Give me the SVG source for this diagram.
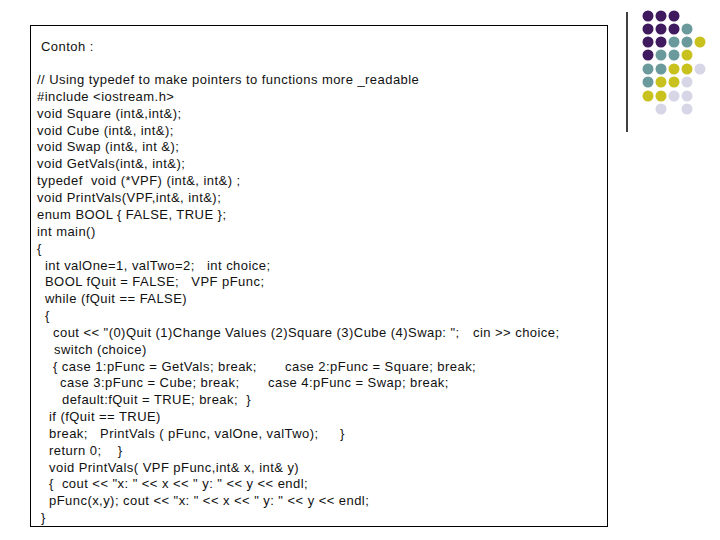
<svg xmlns="http://www.w3.org/2000/svg" width="720" height="540" viewBox="0 0 720 540" xml:space="preserve">
<style>
text{font-family:"Liberation Sans",Arial,sans-serif;font-size:13px;fill:#111;letter-spacing:0.45px;white-space:pre}
.p{fill:#3f1a5e}.t{fill:#6b9a9c}.y{fill:#c9c21e}.l{fill:#d6d6e6}
</style>
<rect width="720" height="540" fill="#fff"/>
<line x1="627" y1="12" x2="627" y2="132" stroke="#000" stroke-width="1.5"/>
<g id="dots">
<circle class="p" cx="648" cy="16" r="5.5"/><circle class="p" cx="661" cy="16" r="5.5"/><circle class="p" cx="674" cy="16" r="5.5"/>
<circle class="p" cx="648" cy="29" r="5.5"/><circle class="p" cx="661" cy="29" r="5.5"/><circle class="p" cx="674" cy="29" r="5.5"/><circle class="t" cx="687" cy="29" r="5.5"/>
<circle class="p" cx="648" cy="42" r="5.5"/><circle class="p" cx="661" cy="42" r="5.5"/><circle class="t" cx="674" cy="42" r="5.5"/><circle class="t" cx="687" cy="42" r="5.5"/><circle class="y" cx="700" cy="42" r="5.5"/>
<circle class="p" cx="648" cy="55" r="5.5"/><circle class="t" cx="661" cy="55" r="5.5"/><circle class="t" cx="674" cy="55" r="5.5"/><circle class="y" cx="687" cy="55" r="5.5"/>
<circle class="t" cx="648" cy="69" r="5.5"/><circle class="t" cx="661" cy="69" r="5.5"/><circle class="y" cx="674" cy="69" r="5.5"/><circle class="y" cx="687" cy="69" r="5.5"/><circle class="l" cx="700" cy="69" r="5.5"/>
<circle class="t" cx="648" cy="82" r="5.5"/><circle class="y" cx="661" cy="82" r="5.5"/><circle class="y" cx="674" cy="82" r="5.5"/><circle class="l" cx="687" cy="82" r="5.5"/>
<circle class="y" cx="648" cy="96" r="5.5"/><circle class="y" cx="661" cy="96" r="5.5"/><circle class="l" cx="674" cy="96" r="5.5"/><circle class="l" cx="687" cy="96" r="5.5"/>
<circle class="l" cx="661" cy="109" r="5.5"/><circle class="l" cx="687" cy="109" r="5.5"/>
</g>
<g id="box">
<rect x="30.5" y="25.5" width="577" height="501" fill="#fff" stroke="#000" stroke-width="1"/>
<text x="41" y="51">Contoh :</text>
<text x="37" y="84">// Using typedef to make pointers to functions more _readable</text>
<text x="37" y="101">#include &lt;iostream.h&gt;</text>
<text x="37" y="118">void Square (int&amp;,int&amp;);</text>
<text x="37" y="135">void Cube (int&amp;, int&amp;);</text>
<text x="37" y="151">void Swap (int&amp;, int &amp;);</text>
<text x="37" y="168">void GetVals(int&amp;, int&amp;);</text>
<text x="37" y="185">typedef  void (*VPF) (int&amp;, int&amp;) ;</text>
<text x="37" y="202">void PrintVals(VPF,int&amp;, int&amp;);</text>
<text x="37" y="219">enum BOOL { FALSE, TRUE };</text>
<text x="37" y="236">int main()</text>
<text x="37" y="253">{</text>
<text x="45" y="270">int valOne=1, valTwo=2;   int choice;</text>
<text x="45" y="286">BOOL fQuit = FALSE;   VPF pFunc;</text>
<text x="45" y="303">while (fQuit == FALSE)</text>
<text x="45" y="320">{</text>
<text x="53" y="337">cout &lt;&lt; "(0)Quit (1)Change Values (2)Square (3)Cube (4)Swap: ";</text><text x="473" y="337">cin &gt;&gt; choice;</text>
<text x="54" y="354">switch (choice)</text>
<text x="53" y="371">{ case 1:pFunc = GetVals; break;</text><text x="285" y="371">case 2:pFunc = Square; break;</text>
<text x="60" y="387">case 3:pFunc = Cube; break;</text><text x="268" y="387">case 4:pFunc = Swap; break;</text>
<text x="62" y="404">default:fQuit = TRUE; break;  }</text>
<text x="49" y="421">if (fQuit == TRUE)</text>
<text x="49" y="438">break;   PrintVals ( pFunc, valOne, valTwo);</text><text x="340" y="438">}</text>
<text x="49" y="455">return 0;    }</text>
<text x="49" y="472">void PrintVals( VPF pFunc,int&amp; x, int&amp; y)</text>
<text x="49" y="488">{  cout &lt;&lt; "x: " &lt;&lt; x &lt;&lt; " y: " &lt;&lt; y &lt;&lt; endl;</text>
<text x="49" y="505">pFunc(x,y); cout &lt;&lt; "x: " &lt;&lt; x &lt;&lt; " y: " &lt;&lt; y &lt;&lt; endl;</text>
<text x="41" y="522">}</text>
</g>
</svg>
